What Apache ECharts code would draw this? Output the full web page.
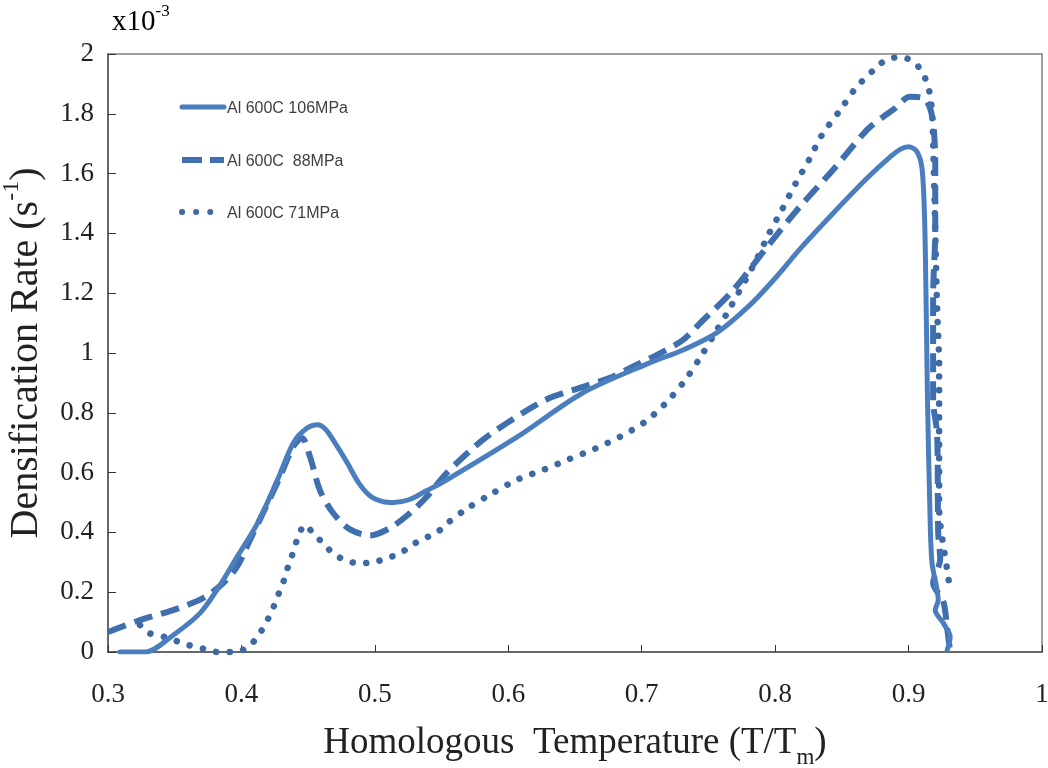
<!DOCTYPE html>
<html>
<head>
<meta charset="utf-8">
<script src="https://cdn.jsdelivr.net/npm/echarts@6/dist/echarts.min.js"></script>
<style>
html,body{margin:0;padding:0;background:#fff;}
#chart{width:1048px;height:768px;}
</style>
</head>
<body>
<div id="chart"></div>
<script>
// Data (y in units of 1e-3 s^-1)
var seriesNames = ['Al 600C 106MPa', 'Al 600C  88MPa', 'Al 600C 71MPa'];
var xTicks = ['0.3','0.4','0.5','0.6','0.7','0.8','0.9','1'];
var yTicks = ['0','0.2','0.4','0.6','0.8','1','1.2','1.4','1.6','1.8','2'];

var s106 = [
  [0.309,0],[0.328,0],[0.349,0.057],[0.369,0.13],[0.382,0.21],[0.397,0.32],[0.412,0.43],
  [0.427,0.576],[0.439,0.70],[0.449,0.748],[0.457,0.76],[0.463,0.745],[0.470,0.70],[0.479,0.635],
  [0.488,0.565],[0.497,0.52],[0.506,0.503],[0.514,0.50],[0.526,0.51],[0.539,0.54],[0.554,0.576],
  [0.607,0.72],[0.656,0.867],[0.706,0.967],[0.731,1.01],[0.757,1.07],[0.781,1.16],[0.800,1.25],
  [0.819,1.35],[0.844,1.47],[0.869,1.585],[0.886,1.655],[0.894,1.682],[0.900,1.69],[0.906,1.675],
  [0.9100,1.62],[0.9120,1.45],[0.9132,1.15],[0.9142,0.84],[0.9158,0.51],[0.9175,0.30],[0.9222,0.174],
  [0.920,0.14],[0.926,0.097],[0.9312,0.05],[0.929,0.007]
];
var s88 = [
  [0.300,0.067],[0.3037,0.073],[0.324,0.107],[0.3487,0.14],[0.3712,0.18],[0.3862,0.23],[0.3967,0.285],
  [0.4064,0.375],[0.4162,0.465],[0.4289,0.586],[0.4387,0.686],[0.4454,0.716],[0.4514,0.653],
  [0.4589,0.54],[0.4687,0.465],[0.4814,0.41],[0.4964,0.39],[0.5114,0.415],[0.5264,0.465],
  [0.5391,0.52],[0.5541,0.60],[0.5811,0.71],[0.611,0.80],[0.6313,0.85],[0.6561,0.887],[0.6763,0.917],
  [0.6913,0.95],[0.7115,0.994],[0.731,1.044],[0.7438,1.10],[0.7685,1.21],[0.794,1.355],[0.8187,1.49],
  [0.8435,1.613],[0.869,1.747],[0.881,1.79],[0.8885,1.814],[0.9012,1.857],[0.912,1.85],[0.9177,1.79],
  [0.920,1.636],[0.920,1.41],[0.9184,1.19],[0.9184,0.84],[0.9214,0.73],[0.9222,0.40],[0.9237,0.31],
  [0.9184,0.23],[0.926,0.17],[0.9289,0.08],[0.9312,0.0]
];
var s71 = [
  [0.324,0.09],[0.331,0.063],[0.3427,0.05],[0.3524,0.035],[0.3614,0.022],[0.3727,0.01],[0.3824,0],
  [0.3937,0],[0.4027,0.01],[0.4102,0.04],[0.4162,0.08],[0.4214,0.124],[0.4252,0.163],[0.4289,0.207],
  [0.4327,0.25],[0.4357,0.297],[0.4394,0.34],[0.4424,0.385],[0.4477,0.425],[0.4537,0.397],
  [0.4612,0.364],[0.4687,0.33],[0.4777,0.307],[0.4874,0.297],[0.4987,0.30],[0.5091,0.314],
  [0.5189,0.33],[0.5279,0.358],[0.5361,0.378],[0.5466,0.40],[0.5541,0.43],[0.5691,0.48],[0.5879,0.53],
  [0.6066,0.576],[0.6268,0.61],[0.6456,0.645],[0.6651,0.68],[0.6838,0.72],[0.7026,0.77],[0.7175,0.83],
  [0.7317,0.904],[0.7437,0.984],[0.755,1.067],[0.7655,1.145],[0.7857,1.31],[0.7955,1.40],[0.8052,1.48],
  [0.8157,1.57],[0.8254,1.646],[0.8352,1.73],[0.8479,1.807],[0.8606,1.887],[0.8756,1.954],[0.8831,1.98],
  [0.8937,1.99],[0.9034,1.975],[0.9102,1.94],[0.914,1.90],[0.9162,1.86],[0.9177,1.80],[0.919,1.6],
  [0.9214,1.145],[0.9229,0.955],[0.9229,0.62],[0.9229,0.485],[0.9289,0.274],[0.9304,0.23]
];

var colors = ['#4A7EBF', '#3F6FAE', '#3E69A3'];
var chart = echarts.init(document.getElementById('chart'));
var serif = 'Liberation Serif';

// legend drawn as graphic items (icon + label)
var legendY = [107, 160, 212];
var legendDash = [null, [20, 8], [0.1, 14]];
var legendGraphics = [];
seriesNames.forEach(function (n, i) {
  legendGraphics.push({
    type: 'line', shape: {x1: 182, y1: legendY[i], x2: 224, y2: legendY[i]},
    style: {stroke: colors[i], lineWidth: i === 0 ? 5 : 6, lineDash: legendDash[i], lineCap: i === 1 ? 'butt' : 'round'}
  });
  legendGraphics.push({
    type: 'text', x: 227, y: legendY[i] + 2,
    style: {text: n, fontFamily: 'Liberation Sans', fontSize: 16, fill: '#404040', verticalAlign: 'middle'}
  });
});

var option = {
  animation: false,
  backgroundColor: '#fff',
  grid: {left: 108, right: 6, top: 54, bottom: 116, show: true, borderColor: '#7f7f7f', borderWidth: 1.5,
         containLabel: false, outerBoundsMode: 'none'},
  graphic: [{
    type: 'text', left: 112, top: 3,
    style: {
      text: '{a|x10}{s|-3}',
      rich: {
        a: {fontFamily: serif, fontSize: 29, color: '#222', lineHeight: 34, verticalAlign: 'bottom'},
        s: {fontFamily: serif, fontSize: 17, color: '#222', lineHeight: 34, verticalAlign: 'top'}
      }
    }
  }].concat(legendGraphics),
  xAxis: {
    type: 'value', min: 0.3, max: 1, interval: 0.1,
    axisLine: {show: true, lineStyle: {color: '#555', width: 1.5}},
    axisTick: {show: true, inside: true, length: 7, lineStyle: {color: '#333'}},
    splitLine: {show: false},
    axisLabel: {
      margin: 29, fontFamily: serif, fontSize: 27, color: '#222',
      formatter: function (v) { var i = Math.round((v - 0.3) / 0.1); return xTicks[i] !== undefined ? xTicks[i] : ''; }
    },
    name: '{a|Homologous  Temperature (T/T}{b|m}{a|)}',
    nameLocation: 'middle', nameGap: 73,
    nameTextStyle: {
      rich: {
        a: {fontFamily: serif, fontSize: 37, color: '#222', lineHeight: 44, verticalAlign: 'top'},
        b: {fontFamily: serif, fontSize: 23, color: '#222', lineHeight: 44, verticalAlign: 'bottom'}
      }
    }
  },
  yAxis: {
    type: 'value', min: 0, max: 2, interval: 0.2,
    axisLine: {show: true, lineStyle: {color: '#555', width: 1.5}},
    axisTick: {show: true, inside: true, length: 8, lineStyle: {color: '#333'}},
    splitLine: {show: false},
    axisLabel: {
      margin: 14, fontFamily: serif, fontSize: 27, color: '#222',
      formatter: function (v) { var i = Math.round(v / 0.2); return yTicks[i] !== undefined ? yTicks[i] : ''; }
    },
    name: '{a|Densification Rate (s}{b|-1}{a|)}',
    nameLocation: 'middle', nameGap: 62, nameRotate: 90,
    nameTextStyle: {
      rich: {
        a: {fontFamily: serif, fontSize: 40, color: '#222', lineHeight: 46, verticalAlign: 'bottom'},
        b: {fontFamily: serif, fontSize: 24, color: '#222', lineHeight: 46, verticalAlign: 'top'}
      }
    }
  },
  series: [
    {name: seriesNames[0], type: 'line', data: s106, showSymbol: false, symbol: 'none', smooth: 0.3,
     lineStyle: {color: colors[0], width: 5, cap: 'round', join: 'round'}, itemStyle: {color: colors[0]}, z: 3},
    {name: seriesNames[1], type: 'line', data: s88, showSymbol: false, symbol: 'none', smooth: 0.3,
     lineStyle: {color: colors[1], width: 6, type: [19, 9], cap: 'butt'}, itemStyle: {color: colors[1]}, z: 2},
    {name: seriesNames[2], type: 'line', data: s71, showSymbol: false, symbol: 'none', smooth: 0.3,
     lineStyle: {color: colors[2], width: 6.5, type: [0.1, 13.5], cap: 'round'}, itemStyle: {color: colors[2]}, z: 1}
  ]
};
chart.setOption(option);
</script>
</body>
</html>
